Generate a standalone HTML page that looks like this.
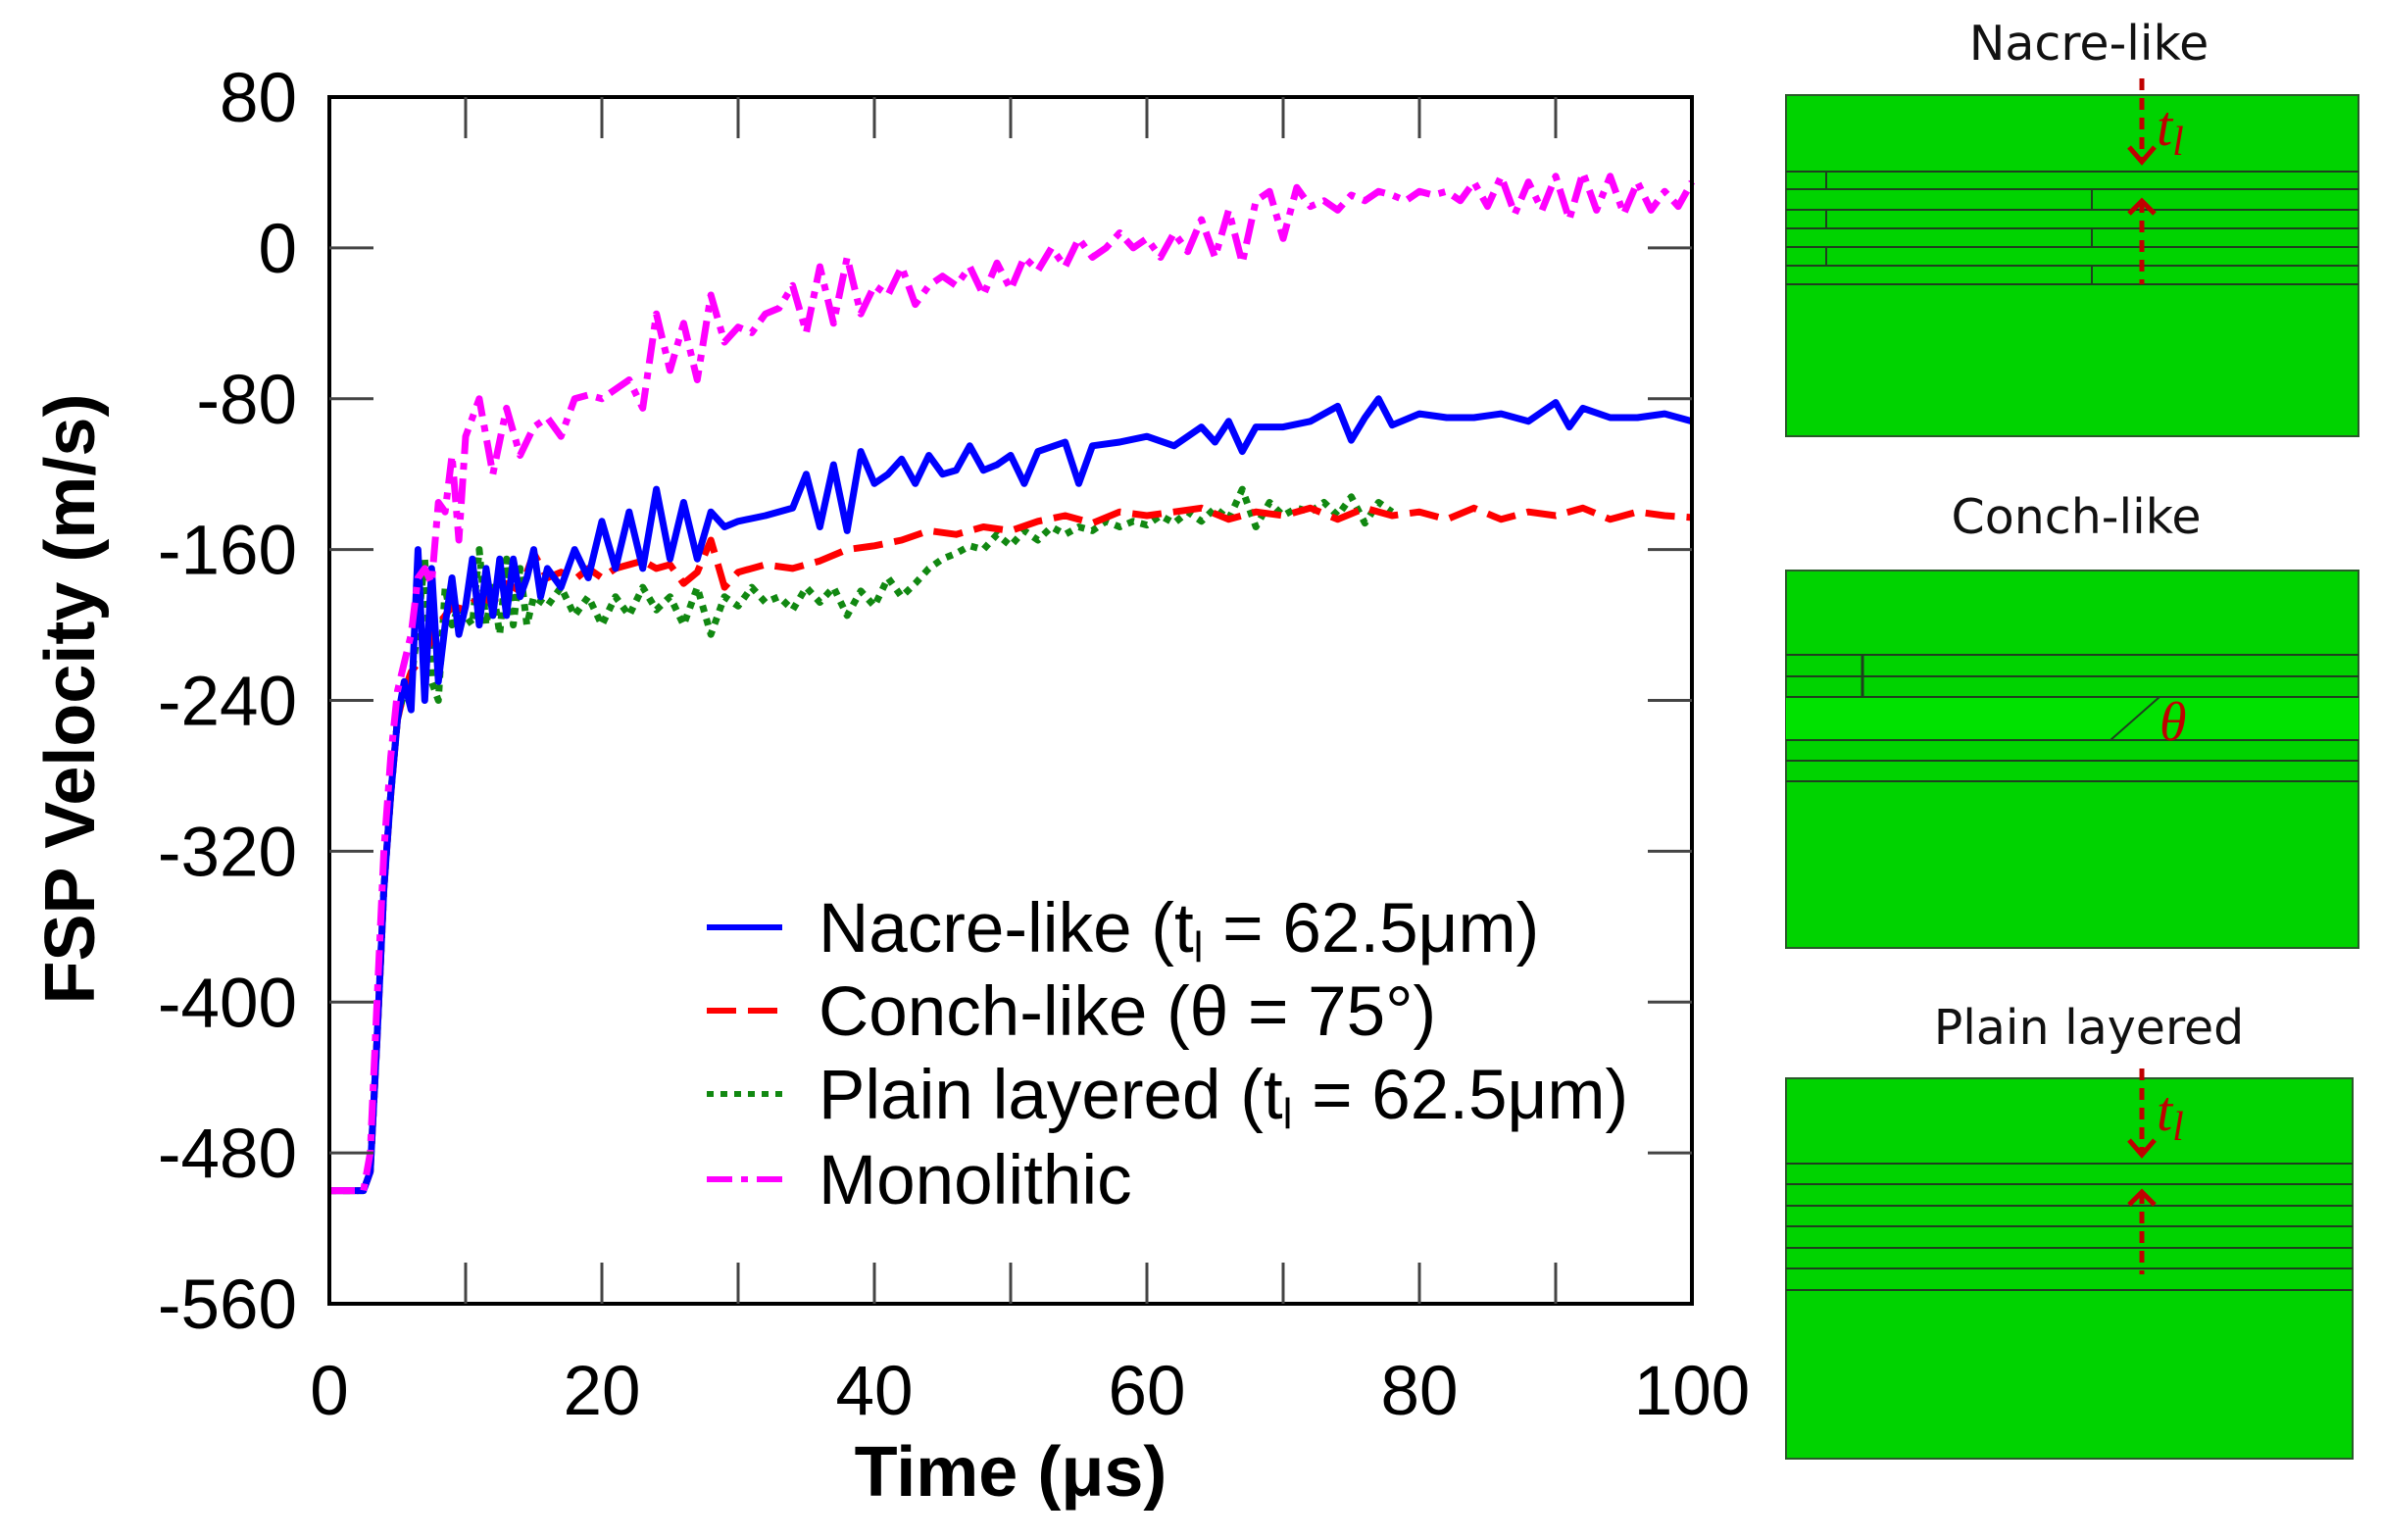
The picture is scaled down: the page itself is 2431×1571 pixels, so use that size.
<!DOCTYPE html>
<html><head><meta charset="utf-8"><style>
html,body{margin:0;padding:0;background:#fff;}
svg{display:block;font-family:"Liberation Sans",Arial,sans-serif;}
</style></head><body>
<svg id="svg" width="2431" height="1571" viewBox="0 0 2431 1571">
<g id="plot"></g>
<g id="panels">
  <text x="2131" y="61" font-size="49" text-anchor="middle" fill="#111" font-family="'DejaVu Sans',sans-serif">Nacre-like</text>
  <rect x="1822" y="97" width="584" height="348" fill="#00d300" stroke="#2a5a2a" stroke-width="2"/>
  <g stroke="#1f3f1f" stroke-width="2">
    <line x1="1822" y1="175" x2="2406" y2="175"/><line x1="1822" y1="193" x2="2406" y2="193"/>
    <line x1="1822" y1="214" x2="2406" y2="214"/><line x1="1822" y1="233" x2="2406" y2="233"/>
    <line x1="1822" y1="252" x2="2406" y2="252"/><line x1="1822" y1="271" x2="2406" y2="271"/>
    <line x1="1822" y1="290" x2="2406" y2="290"/>
    <line x1="1863" y1="175" x2="1863" y2="193"/><line x1="1863" y1="214" x2="1863" y2="233"/><line x1="1863" y1="252" x2="1863" y2="271"/>
    <line x1="2134" y1="193" x2="2134" y2="214"/><line x1="2134" y1="233" x2="2134" y2="252"/><line x1="2134" y1="271" x2="2134" y2="290"/>
  </g>
  <g stroke="#c00000" stroke-width="5" fill="none">
    <line x1="2185" y1="80" x2="2185" y2="165" stroke-dasharray="12,8"/>
    <polyline points="2172,150 2185,165 2198,150"/>
    <line x1="2185" y1="205" x2="2185" y2="290" stroke-dasharray="12,8"/>
    <polyline points="2172,218 2185,205 2198,218"/>
  </g>
  <text x="2200" y="148" font-size="58" font-style="italic" fill="#c00000" font-family="'Liberation Serif',serif">t<tspan font-size="42" dy="10">l</tspan></text>

  <text x="2118" y="544" font-size="49" text-anchor="middle" fill="#111" font-family="'DejaVu Sans',sans-serif">Conch-like</text>
  <rect x="1822" y="582" width="584" height="385" fill="#00d300" stroke="#2a5a2a" stroke-width="2"/>
  <rect x="1822" y="711" width="584" height="44" fill="#00e200"/>
  <g stroke="#1f3f1f" stroke-width="2">
    <line x1="1822" y1="668" x2="2406" y2="668"/><line x1="1822" y1="690" x2="2406" y2="690"/>
    <line x1="1822" y1="711" x2="2406" y2="711"/><line x1="1822" y1="755" x2="2406" y2="755"/>
    <line x1="1822" y1="776" x2="2406" y2="776"/><line x1="1822" y1="797" x2="2406" y2="797"/>
    <line x1="1900" y1="668" x2="1900" y2="711" stroke-width="3"/>
    <line x1="2153" y1="755" x2="2203" y2="711"/>
  </g>
  <text x="2203" y="755" font-size="56" font-style="italic" fill="#c00000" font-family="'Liberation Serif',serif">θ</text>

  <text x="2131" y="1065" font-size="49" text-anchor="middle" fill="#111" font-family="'DejaVu Sans',sans-serif">Plain layered</text>
  <rect x="1822" y="1100" width="578" height="388" fill="#00d300" stroke="#2a5a2a" stroke-width="2"/>
  <g stroke="#1f3f1f" stroke-width="2">
    <line x1="1822" y1="1187" x2="2400" y2="1187"/><line x1="1822" y1="1208" x2="2400" y2="1208"/>
    <line x1="1822" y1="1230" x2="2400" y2="1230"/><line x1="1822" y1="1251" x2="2400" y2="1251"/>
    <line x1="1822" y1="1273" x2="2400" y2="1273"/><line x1="1822" y1="1294" x2="2400" y2="1294"/>
    <line x1="1822" y1="1316" x2="2400" y2="1316"/>
  </g>
  <g stroke="#c00000" stroke-width="5" fill="none">
    <line x1="2185" y1="1090" x2="2185" y2="1178" stroke-dasharray="12,8"/>
    <polyline points="2172,1163 2185,1178 2198,1163"/>
    <line x1="2185" y1="1216" x2="2185" y2="1300" stroke-dasharray="12,8"/>
    <polyline points="2172,1229 2185,1216 2198,1229"/>
  </g>
  <text x="2200" y="1153" font-size="58" font-style="italic" fill="#c00000" font-family="'Liberation Serif',serif">t<tspan font-size="42" dy="10">l</tspan></text>
</g>
</svg>
<script>
const xTicks=[0,20,40,60,80,100];
const yTicks=[80,0,-80,-160,-240,-320,-400,-480,-560];
const nacreT=[0,2.5,3,3.5,4,4.5,5,5.5,6,6.5,7,7.5,8,8.5,9,9.5,10,10.5,11,11.5,12,12.5,13,13.5,14,14.5,15,15.5,16,17,18,19,20,21,22,23,24,25,26,27,28,29,30,32,34,35,36,37,38,39,40,41,42,43,44,45,46,47,48,49,50,51,52,54,55,56,58,60,62,64,65,66,67,68,70,72,74,75,76,77,78,80,82,84,86,88,90,91,92,94,96,98,100];
const nacreV=[-500,-500,-490,-420,-340,-290,-250,-230,-245,-160,-240,-170,-230,-200,-175,-205,-190,-165,-200,-170,-195,-165,-195,-165,-185,-175,-160,-185,-170,-180,-160,-175,-145,-170,-140,-170,-128,-165,-135,-165,-140,-148,-145,-142,-138,-120,-148,-115,-150,-108,-125,-120,-112,-125,-110,-120,-118,-105,-118,-115,-110,-125,-108,-103,-125,-105,-103,-100,-105,-95,-103,-92,-108,-95,-95,-92,-84,-102,-90,-80,-94,-88,-90,-90,-88,-92,-82,-95,-85,-90,-90,-88,-92];
const conchT=[0,2.5,3,3.5,4,4.5,5,5.5,6,7,8,9,10,11,12,13,14,15,16,17,18,19,20,21,22,23,24,25,26,27,28,29,30,32,34,36,38,40,42,44,46,48,50,52,54,56,58,60,62,64,66,68,70,72,74,76,78,80,82,84,86,88,90,92,94,96,98,100];
const conchV=[-500,-500,-490,-420,-340,-290,-250,-235,-225,-215,-200,-190,-192,-185,-188,-178,-182,-162,-175,-172,-176,-170,-175,-170,-168,-166,-170,-168,-178,-172,-155,-180,-172,-168,-170,-166,-160,-158,-155,-150,-152,-148,-150,-145,-142,-146,-140,-142,-140,-138,-144,-140,-142,-138,-144,-138,-142,-140,-144,-138,-144,-140,-142,-138,-144,-140,-142,-143];
const plainT=[0,2.5,3,3.5,4,4.5,5,5.5,6,6.5,7,7.5,8,8.5,9,9.5,10,10.5,11,11.5,12,12.5,13,13.5,14,14.5,15,16,17,18,19,20,21,22,23,24,25,26,27,28,29,30,31,32,33,34,35,36,37,38,39,40,41,42,43,44,45,46,47,48,49,50,51,52,53,54,55,56,57,58,59,60,61,62,63,64,65,66,67,68,69,70,71,72,73,74,75,76,77,78];
const plainV=[-500,-500,-490,-420,-340,-290,-250,-235,-230,-200,-165,-230,-240,-180,-200,-190,-195,-200,-160,-200,-180,-205,-165,-200,-170,-200,-185,-190,-180,-195,-185,-200,-185,-195,-180,-192,-185,-200,-180,-205,-185,-190,-180,-188,-185,-192,-180,-188,-180,-195,-182,-190,-175,-185,-178,-170,-165,-162,-158,-160,-152,-158,-150,-155,-148,-152,-148,-150,-145,-148,-145,-147,-142,-146,-140,-145,-138,-144,-128,-148,-135,-142,-138,-140,-135,-142,-132,-146,-135,-140];
const monoT=[0,2.5,3,3.5,4,4.5,5,5.5,6,6.5,7,7.5,8,8.5,9,9.5,10,11,12,13,14,15,16,17,18,19,20,21,22,23,24,25,26,27,28,29,30,31,32,33,34,35,36,37,38,39,40,41,42,43,44,45,46,47,48,49,50,51,52,53,54,55,56,57,58,59,60,61,62,63,64,65,66,67,68,69,70,71,72,73,74,75,76,77,78,79,80,81,82,83,84,85,86,87,88,89,90,91,92,93,94,95,96,97,98,99,100];
const monoV=[-500,-500,-480,-400,-320,-270,-235,-220,-205,-175,-170,-178,-135,-140,-110,-155,-100,-80,-120,-85,-110,-95,-90,-100,-80,-78,-80,-75,-70,-85,-35,-65,-40,-70,-25,-50,-42,-45,-35,-32,-20,-45,-10,-40,-5,-35,-20,-25,-10,-30,-20,-15,-20,-10,-25,-8,-22,-5,-12,0,-10,5,-5,0,8,0,5,-5,8,-2,15,-5,20,-8,25,30,5,32,22,25,20,28,25,30,28,25,30,28,30,25,35,22,38,18,35,20,38,15,40,20,38,18,35,20,30,22,35];

const NS='http://www.w3.org/2000/svg';
const L=336,R=1726,T=99,B=1330;
const xs=t=>L+(t-0)/(100-0)*(R-L);
const ys=v=>T+(80-v)/(80-(-560))*(B-T);
const plot=document.getElementById('plot');
function mk(tag,attrs,parent){const e=document.createElementNS(NS,tag);for(const k in attrs)e.setAttribute(k,attrs[k]);(parent||plot).appendChild(e);return e;}

const series=[
 {t:plainT,v:plainV,c:'#118811',d:'7,7',n:'plain-layered-line'},
 {t:conchT,v:conchV,c:'#ff0000',d:'30,12',n:'conch-like-line'},
 {t:nacreT,v:nacreV,c:'#0000ff',d:'none',n:'nacre-like-line'},
 {t:monoT,v:monoV,c:'#ff00ff',d:'26,9,7,9',n:'monolithic-line'}
];
for(const s of series){
  let d='';
  s.t.forEach((t,i)=>{d+=(i?'L':'M')+xs(t).toFixed(1)+','+ys(s.v[i]).toFixed(1);});
  const p=mk('path',{d:d,fill:'none',stroke:s.c,'stroke-width':7,'stroke-dasharray':s.d,'stroke-linejoin':'round'});
  
  
}

const fr=mk('rect',{x:L,y:T,width:R-L,height:B-T,fill:'none',stroke:'#000','stroke-width':4});


for(let t=10;t<100;t+=10){
  const a=mk('line',{x1:xs(t),x2:xs(t),y1:B,y2:B-42,stroke:'#444','stroke-width':3});
  
  
  const b=mk('line',{x1:xs(t),x2:xs(t),y1:T,y2:T+42,stroke:'#444','stroke-width':3});
  
  
}
for(const v of yTicks){
  if(v===80||v===-560)continue;
  const a=mk('line',{x1:L,x2:L+45,y1:ys(v),y2:ys(v),stroke:'#444','stroke-width':3});
  
  
  const b=mk('line',{x1:R,x2:R-45,y1:ys(v),y2:ys(v),stroke:'#444','stroke-width':3});
  
  
}
for(const t of xTicks){
  const e=mk('text',{x:xs(t),y:1443,'font-size':71,'text-anchor':'middle',fill:'#000'});
  e.textContent=t;
  
  
}
for(const v of yTicks){
  const e=mk('text',{x:303,y:ys(v)+25,'font-size':71,'text-anchor':'end',fill:'#000'});
  e.textContent=v;
  
  
}
const xt=mk('text',{x:1031,y:1526,'font-size':72,'font-weight':'bold','text-anchor':'middle',fill:'#000'});
xt.textContent='Time (μs)';


const yt=mk('text',{x:0,y:0,'font-size':72,'font-weight':'bold','text-anchor':'middle',fill:'#000',transform:'translate(96,713) rotate(-90)'});
yt.textContent='FSP Velocity (m/s)';



const leg=[
 {c:'#0000ff',d:'none',h:'Nacre-like (t<tspan font-size="44" dy="10">l</tspan><tspan dy="-10"> = 62.5μm)</tspan>',n:'legend-nacre'},
 {c:'#ff0000',d:'30,12',h:'Conch-like (θ = 75°)',n:'legend-conch'},
 {c:'#118811',d:'7,7',h:'Plain layered (t<tspan font-size="44" dy="10">l</tspan><tspan dy="-10"> = 62.5μm)</tspan>',n:'legend-plain'},
 {c:'#ff00ff',d:'26,9,7,9',h:'Monolithic',n:'legend-monolithic'}
];
const ly=[946,1031,1116,1203];
leg.forEach((g,i)=>{
  const grp=mk('g',{});
  
  
  mk('line',{x1:721,x2:798,y1:ly[i],y2:ly[i],stroke:g.c,'stroke-width':6,'stroke-dasharray':g.d},grp);
  const tx=mk('text',{x:835,y:ly[i]+25,'font-size':71,fill:'#000'},grp);
  tx.innerHTML=g.h;
});
</script>
</body></html>
